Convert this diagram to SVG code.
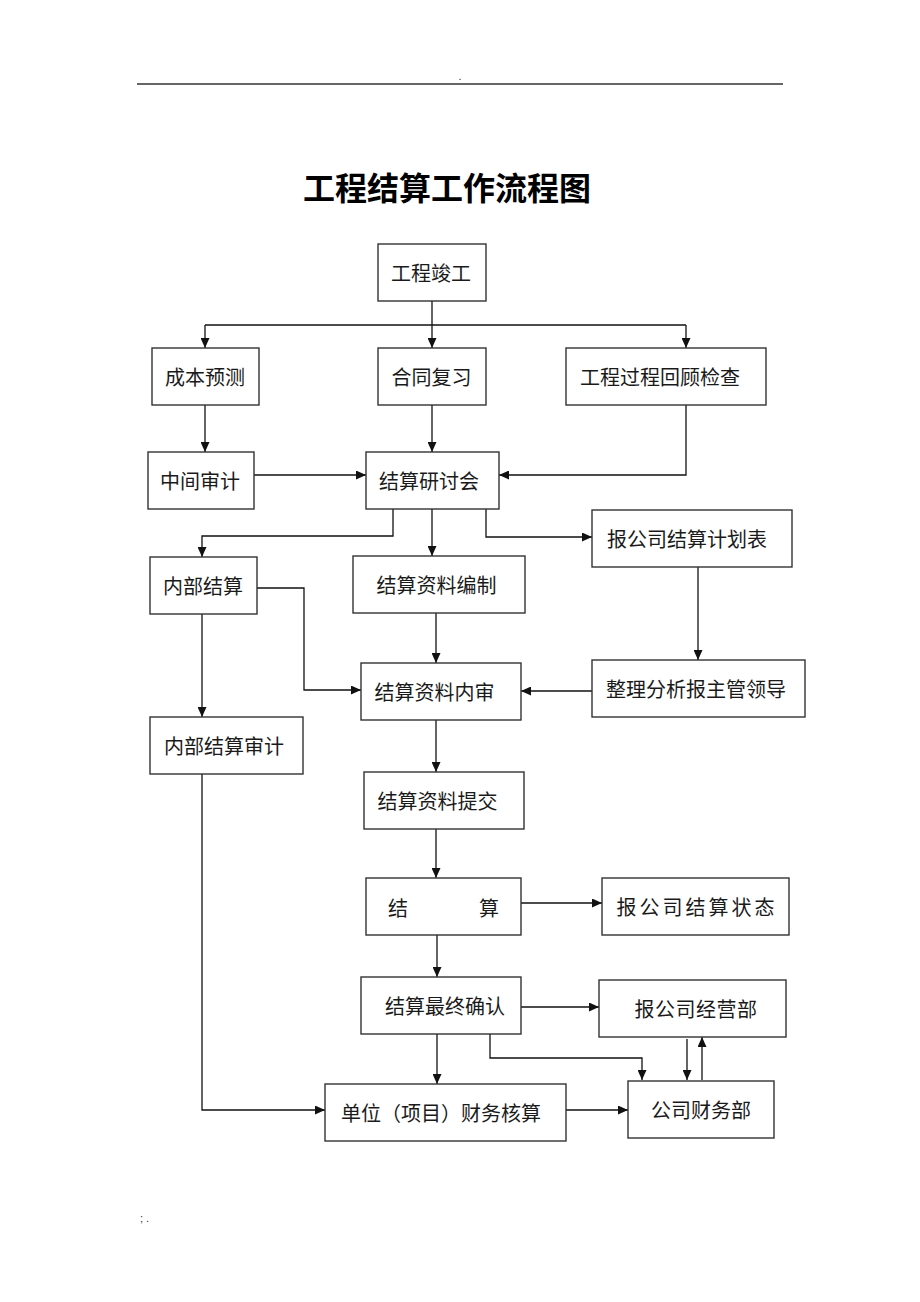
<svg xmlns="http://www.w3.org/2000/svg" width="920" height="1302" viewBox="0 0 920 1302">
<style>
.box{fill:#fff;stroke:#333;stroke-width:1.4}
.t{font-family:"Noto Sans CJK SC","Liberation Sans",sans-serif;font-size:20px;fill:#1a1a1a;text-anchor:middle;dominant-baseline:central}
.c{fill:none;stroke:#111;stroke-width:1.3}
.a{marker-end:url(#ah)}
</style>
<defs>
<marker id="ah" markerUnits="userSpaceOnUse" markerWidth="11" markerHeight="9" refX="10" refY="4.5" orient="auto">
<path d="M0,0 L10,4.5 L0,9 z" fill="#111"/>
</marker>
</defs>
<rect width="920" height="1302" fill="#fff"/>
<line x1="137" y1="84" x2="783" y2="84" stroke="#333" stroke-width="1.5"/>
<text x="460" y="80" font-family="Liberation Sans,sans-serif" font-size="11" fill="#333" text-anchor="middle">.</text>
<text x="447" y="186" font-family="'Noto Sans CJK SC',sans-serif" font-size="32" font-weight="bold" fill="#000" text-anchor="middle" dominant-baseline="central">工程结算工作流程图</text>
<text x="140" y="1222" font-family="Liberation Sans,sans-serif" font-size="11" fill="#333">; .</text>

<g id="connectors">
<path class="c a" d="M432,301 V348"/>
<path class="c" d="M205,325 H686"/>
<path class="c a" d="M205,325 V348"/>
<path class="c a" d="M686,325 V348"/>
<path class="c a" d="M205,405 V452"/>
<path class="c a" d="M432,405 V452"/>
<path class="c a" d="M686,405 V475 H499"/>
<path class="c a" d="M254,475 H366"/>
<path class="c a" d="M393,509 V536 H202 V557"/>
<path class="c a" d="M432,509 V556"/>
<path class="c a" d="M486,509 V537 H592"/>
<path class="c a" d="M698,567 V660"/>
<path class="c a" d="M592,691 H521"/>
<path class="c a" d="M436,613 V663"/>
<path class="c a" d="M257,588 H304 V690 H361"/>
<path class="c a" d="M202,614 V717"/>
<path class="c a" d="M436,720 V772"/>
<path class="c a" d="M436,829 V878"/>
<path class="c a" d="M521,903 H602"/>
<path class="c a" d="M437,935 V977"/>
<path class="c a" d="M521,1007 H599"/>
<path class="c a" d="M437,1034 V1084"/>
<path class="c a" d="M490,1034 V1058 H642 V1080"/>
<path class="c a" d="M687,1039 V1080"/>
<path class="c a" d="M702,1080 V1037"/>
<path class="c a" d="M566,1110 H628"/>
<path class="c a" d="M202,774 V1110 H325"/>
</g>

<g id="n1"><rect class="box" x="378" y="244" width="108" height="57"/><text class="t" x="431" y="272.5">工程竣工</text></g>
<g id="n2"><rect class="box" x="152" y="348" width="107" height="57"/><text class="t" x="205" y="376.5">成本预测</text></g>
<g id="n3"><rect class="box" x="378" y="348" width="108" height="57"/><text class="t" x="431.5" y="376.5">合同复习</text></g>
<g id="n4"><rect class="box" x="566" y="348" width="200" height="57"/><text class="t" x="660" y="376.5">工程过程回顾检查</text></g>
<g id="n5"><rect class="box" x="148" y="452" width="106" height="57"/><text class="t" x="200" y="480.5">中间审计</text></g>
<g id="n6"><rect class="box" x="366" y="452" width="133" height="57"/><text class="t" x="429" y="480.5">结算研讨会</text></g>
<g id="n7"><rect class="box" x="592" y="510" width="200" height="57"/><text class="t" x="687" y="538.5">报公司结算计划表</text></g>
<g id="n8"><rect class="box" x="150" y="557" width="107" height="57"/><text class="t" x="203" y="585.5">内部结算</text></g>
<g id="n9"><rect class="box" x="353" y="556" width="172" height="57"/><text class="t" x="436.5" y="584.5">结算资料编制</text></g>
<g id="n10"><rect class="box" x="361" y="663" width="160" height="57"/><text class="t" x="434.5" y="691.5">结算资料内审</text></g>
<g id="n11"><rect class="box" x="592" y="660" width="213" height="57"/><text class="t" x="696" y="688.5">整理分析报主管领导</text></g>
<g id="n12"><rect class="box" x="150" y="717" width="153" height="57"/><text class="t" x="224" y="745.5">内部结算审计</text></g>
<g id="n13"><rect class="box" x="364" y="772" width="160" height="57"/><text class="t" x="437.5" y="800.5">结算资料提交</text></g>
<g id="n14"><rect class="box" x="366" y="878" width="155" height="57"/><text class="t" y="906.5"><tspan x="398">结</tspan><tspan x="489">算</tspan></text></g>
<g id="n15"><rect class="box" x="602" y="878" width="187" height="57"/><text class="t" x="697" y="906.5" letter-spacing="3">报公司结算状态</text></g>
<g id="n16"><rect class="box" x="361" y="977" width="160" height="57"/><text class="t" x="445" y="1005.5">结算最终确认</text></g>
<g id="n17"><rect class="box" x="599" y="980" width="187" height="57"/><text class="t" x="696" y="1008.5" letter-spacing="0.5">报公司经营部</text></g>
<g id="n18"><rect class="box" x="325" y="1084" width="241" height="57"/><text class="t" x="441" y="1112.5">单位（项目）财务核算</text></g>
<g id="n19"><rect class="box" x="628" y="1081" width="146" height="57"/><text class="t" x="701" y="1109.5">公司财务部</text></g>
</svg>
